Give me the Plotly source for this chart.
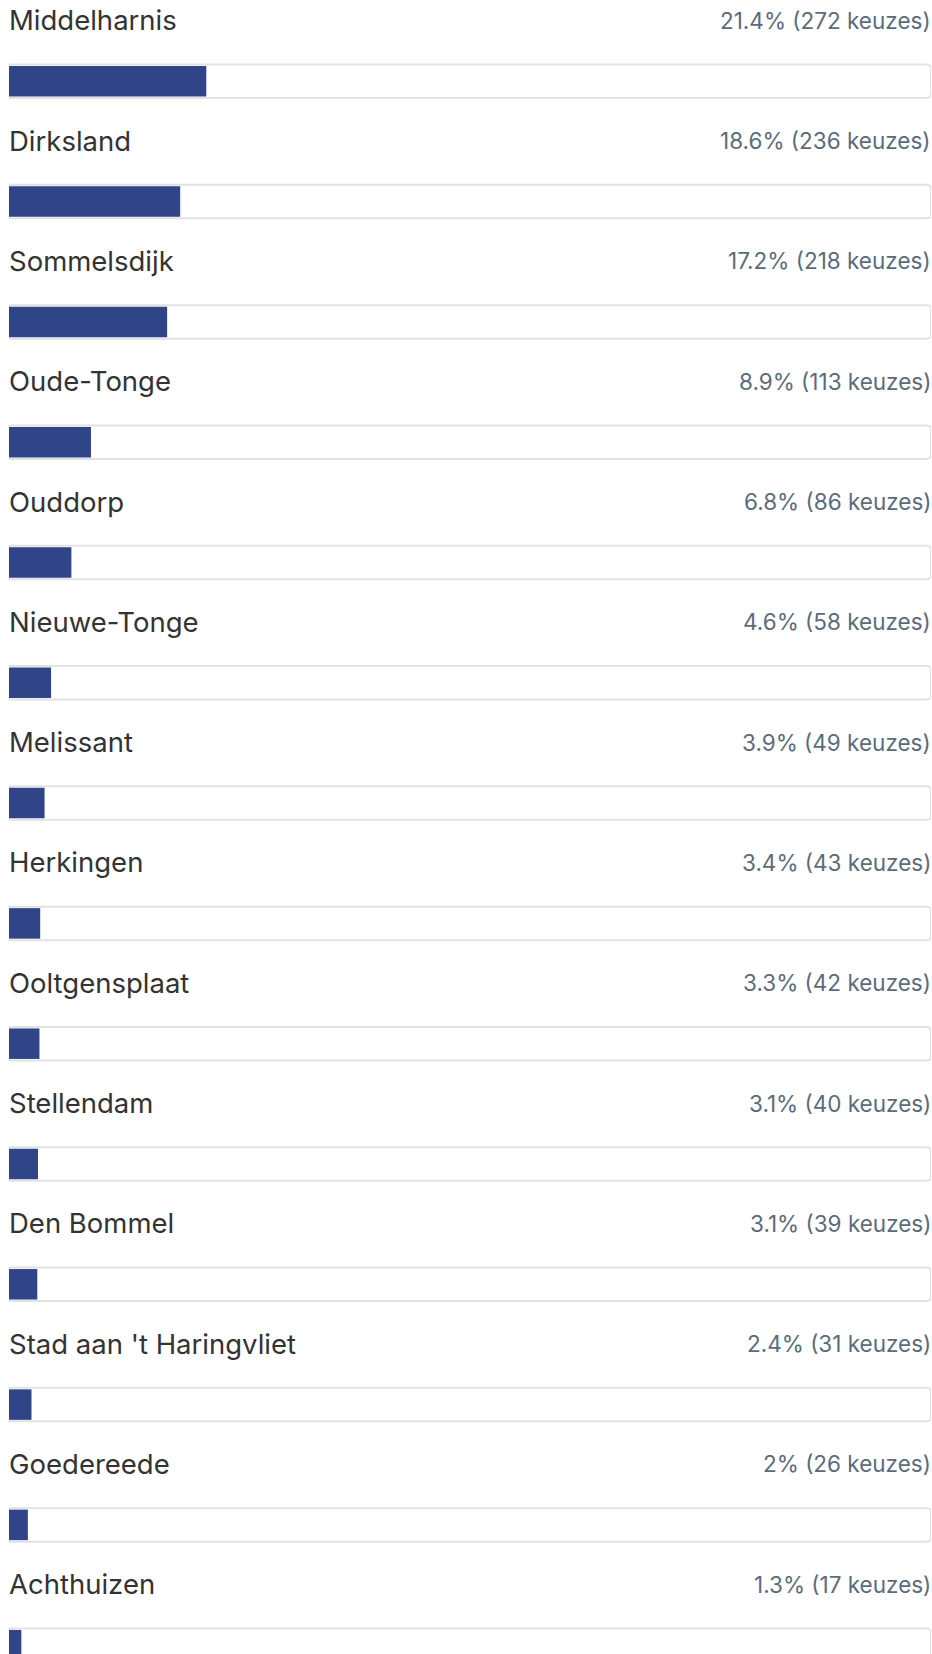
import plotly.graph_objects as go

places = ["Middelharnis", "Dirksland", "Sommelsdijk", "Oude-Tonge", "Ouddorp",
          "Nieuwe-Tonge", "Melissant", "Herkingen", "Ooltgensplaat", "Stellendam",
          "Den Bommel", "Stad aan 't Haringvliet", "Goedereede", "Achthuizen"]
percent_labels = ["21.4%", "18.6%", "17.2%", "8.9%", "6.8%", "4.6%", "3.9%",
                  "3.4%", "3.3%", "3.1%", "3.1%", "2.4%", "2%", "1.3%"]
votes = [272, 236, 218, 113, 86, 58, 49, 43, 42, 40, 39, 31, 26, 17]

total = 1271
pcts = [v / total * 100 for v in votes]
rows = list(range(len(places)))

W, H = 932, 1654
pitch = 120.3
first_center = 81.3
y_top = -first_center / pitch
y_bot = (H - first_center) / pitch

fig = go.Figure()
# track
fig.add_trace(go.Bar(
    x=[100] * len(rows), y=rows, orientation="h", width=33.5 / pitch,
    marker=dict(color="white", line=dict(color="#e2e2e2", width=2), cornerradius=4),
    hoverinfo="skip", showlegend=False,
))
# fill
fig.add_trace(go.Bar(
    x=pcts, y=rows, orientation="h", width=30.5 / pitch,
    marker=dict(color="#2f4588", line=dict(width=0), cornerradius=3),
    hoverinfo="skip", showlegend=False,
))

for i, name in enumerate(places):
    fig.add_annotation(x=0, y=i, xref="x", yref="y", text=name, showarrow=False,
                       xanchor="left", yanchor="middle", yshift=61, xshift=-2,
                       font=dict(family="Inter", size=27.5, color="#333333"))
    fig.add_annotation(x=100, y=i, xref="x", yref="y",
                       text=f"{percent_labels[i]} ({votes[i]} keuzes)", showarrow=False,
                       xanchor="right", yanchor="middle", yshift=61, xshift=2,
                       font=dict(family="Inter", size=22.5, color="#5b6b7c"))

fig.update_layout(
    width=W, height=H, margin=dict(l=9, r=1, t=0, b=0),
    paper_bgcolor="white", plot_bgcolor="white", barmode="overlay",
    xaxis=dict(range=[0, 100], visible=False, fixedrange=True),
    yaxis=dict(range=[y_bot, y_top], visible=False, fixedrange=True),
)
fig.write_html("out.html", config={"displayModeBar": False},
               post_script="document.body.style.margin='0';document.body.style.overflow='hidden';")
